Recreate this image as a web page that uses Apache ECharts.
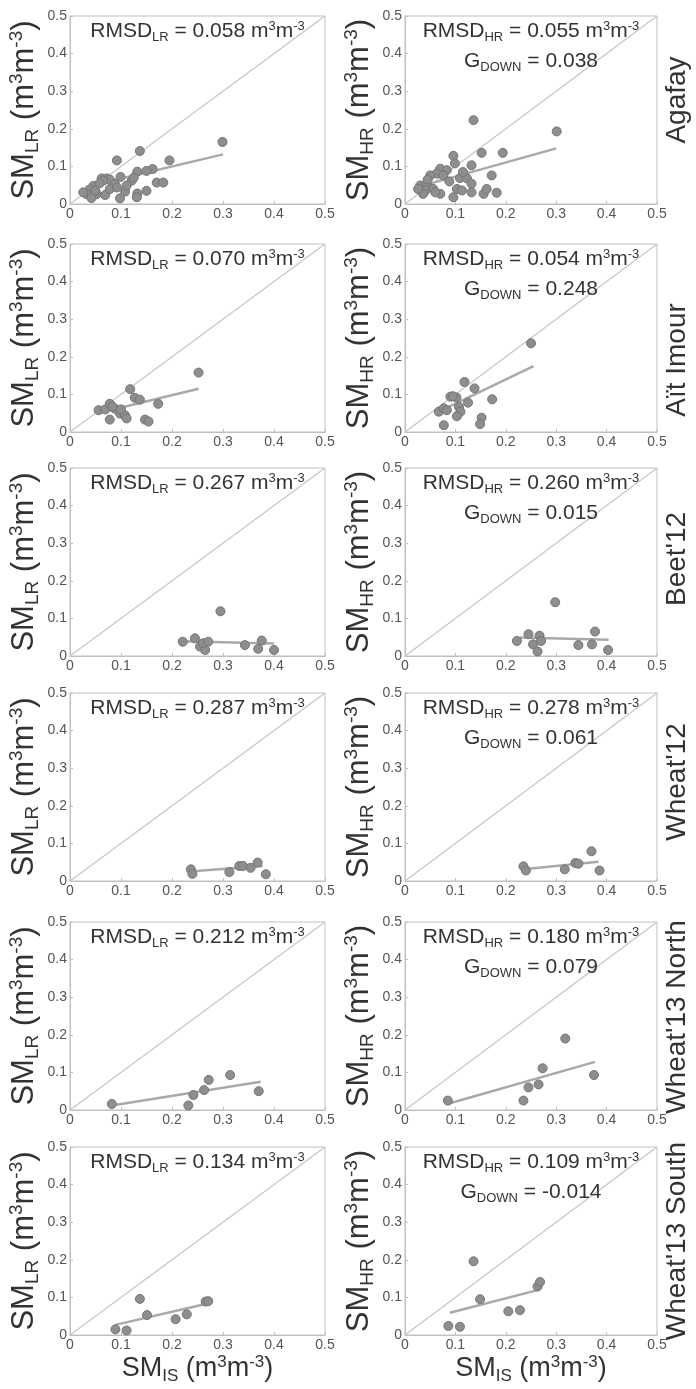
<!DOCTYPE html>
<html>
<head>
<meta charset="utf-8">
<script src="https://cdn.jsdelivr.net/npm/echarts@6/dist/echarts.min.js"></script>
<style>
  html, body { margin: 0; padding: 0; background: #fff; }
  #chart { width: 696px; height: 1389px; }
</style>
</head>
<body>
<div id="chart"></div>
<script>
// sites (rows) and statistics printed in each panel
const sites = ["Agafay", "Aït Imour", "Beet'12", "Wheat'12", "Wheat'13 North", "Wheat'13 South"];
const rmsdLR = ["0.058", "0.070", "0.267", "0.287", "0.212", "0.134"];
const rmsdHR = ["0.055", "0.054", "0.260", "0.278", "0.180", "0.109"];
const gDown = ["0.038", "0.248", "0.015", "0.061", "0.079", "-0.014"];
const axisTicks = [0, 0.1, 0.2, 0.3, 0.4, 0.5];
const identityLine = [[0, 0], [0.5, 0.5]];

// [SM_IS, SM_LR] and [SM_IS, SM_HR] pairs
const agafayLR = [[0.299,0.165],[0.137,0.141],[0.092,0.116],[0.195,0.116],[0.162,0.093],[0.150,0.088],[0.132,0.086],[0.099,0.072],[0.062,0.068],[0.072,0.068],[0.078,0.065],[0.065,0.062],[0.121,0.062],[0.170,0.057],[0.183,0.057],[0.088,0.053],[0.046,0.048],[0.040,0.039],[0.150,0.035],[0.108,0.033],[0.132,0.028],[0.131,0.018],[0.098,0.015],[0.069,0.024],[0.052,0.026],[0.033,0.026],[0.026,0.031],[0.042,0.016],[0.078,0.040],[0.092,0.044],[0.111,0.049],[0.058,0.055],[0.050,0.035],[0.125,0.070]];
const agafayHR = [[0.136,0.223],[0.301,0.193],[0.152,0.136],[0.194,0.136],[0.096,0.128],[0.099,0.108],[0.132,0.103],[0.070,0.094],[0.083,0.090],[0.063,0.081],[0.076,0.076],[0.050,0.076],[0.172,0.076],[0.109,0.069],[0.123,0.068],[0.132,0.054],[0.030,0.049],[0.043,0.054],[0.040,0.036],[0.056,0.040],[0.103,0.040],[0.113,0.036],[0.132,0.031],[0.156,0.027],[0.162,0.040],[0.182,0.030],[0.096,0.018],[0.070,0.027],[0.060,0.031],[0.036,0.027],[0.026,0.040],[0.088,0.060],[0.045,0.065],[0.115,0.085]];
const aitImourLR = [[0.252,0.158],[0.118,0.114],[0.127,0.091],[0.137,0.086],[0.173,0.075],[0.056,0.058],[0.069,0.060],[0.078,0.075],[0.088,0.062],[0.098,0.049],[0.108,0.044],[0.111,0.036],[0.078,0.033],[0.147,0.033],[0.154,0.028],[0.083,0.068],[0.100,0.060]];
const aitImourHR = [[0.250,0.236],[0.118,0.133],[0.138,0.116],[0.173,0.087],[0.090,0.094],[0.102,0.092],[0.125,0.078],[0.067,0.054],[0.077,0.063],[0.083,0.058],[0.107,0.067],[0.110,0.054],[0.103,0.042],[0.152,0.038],[0.149,0.021],[0.077,0.018],[0.095,0.095]];
const beet12LR = [[0.295,0.119],[0.221,0.038],[0.245,0.047],[0.255,0.025],[0.265,0.016],[0.261,0.034],[0.271,0.038],[0.343,0.029],[0.369,0.019],[0.376,0.041],[0.400,0.016]];
const beet12HR = [[0.298,0.143],[0.222,0.040],[0.245,0.058],[0.254,0.031],[0.263,0.012],[0.267,0.054],[0.270,0.040],[0.344,0.029],[0.371,0.031],[0.377,0.065],[0.403,0.016]];
const wheat12LR = [[0.237,0.031],[0.240,0.019],[0.3125,0.024],[0.332,0.040],[0.339,0.040],[0.354,0.035],[0.368,0.049],[0.384,0.018]];
const wheat12HR = [[0.235,0.039],[0.240,0.028],[0.317,0.031],[0.338,0.048],[0.344,0.046],[0.370,0.079],[0.386,0.028]];
const wheat13NorthLR = [[0.082,0.016],[0.232,0.012],[0.242,0.040],[0.263,0.053],[0.272,0.080],[0.314,0.093],[0.370,0.050]];
const wheat13NorthHR = [[0.085,0.025],[0.235,0.025],[0.245,0.060],[0.265,0.068],[0.273,0.111],[0.318,0.190],[0.375,0.093]];
const wheat13SouthLR = [[0.089,0.015],[0.111,0.012],[0.137,0.096],[0.151,0.053],[0.207,0.042],[0.229,0.055],[0.266,0.089],[0.271,0.090]];
const wheat13SouthHR = [[0.086,0.024],[0.109,0.022],[0.136,0.196],[0.149,0.095],[0.205,0.063],[0.228,0.066],[0.263,0.129],[0.268,0.141]];

// end points of the fitted regression lines
const agafayLRFit = [[0.03,0.045],[0.30,0.132]];
const agafayHRFit = [[0.025,0.045],[0.30,0.148]];
const aitImourLRFit = [[0.06,0.052],[0.252,0.115]];
const aitImourHRFit = [[0.067,0.054],[0.255,0.175]];
const beet12LRFit = [[0.22,0.039],[0.40,0.033]];
const beet12HRFit = [[0.228,0.049],[0.404,0.043]];
const wheat12LRFit = [[0.24,0.026],[0.378,0.040]];
const wheat12HRFit = [[0.235,0.031],[0.384,0.051]];
const wheat13NorthLRFit = [[0.082,0.012],[0.374,0.075]];
const wheat13NorthHRFit = [[0.089,0.018],[0.377,0.128]];
const wheat13SouthLRFit = [[0.089,0.027],[0.270,0.084]];
const wheat13SouthHRFit = [[0.089,0.059],[0.265,0.120]];

const lrPoints = [agafayLR, aitImourLR, beet12LR, wheat12LR, wheat13NorthLR, wheat13SouthLR];
const hrPoints = [agafayHR, aitImourHR, beet12HR, wheat12HR, wheat13NorthHR, wheat13SouthHR];
const lrFits = [agafayLRFit, aitImourLRFit, beet12LRFit, wheat12LRFit, wheat13NorthLRFit, wheat13SouthLRFit];
const hrFits = [agafayHRFit, aitImourHRFit, beet12HRFit, wheat12HRFit, wheat13NorthHRFit, wheat13SouthHRFit];

// layout
const font = "Liberation Sans, Arial, sans-serif";
const textColor = "#333";
const boxColor = "#c0c0c0";
const colLeft = [70, 405];
const colWidth = [255, 252];
const rowTop = [16, 244, 468, 693, 922, 1147];
const plotHeight = 188;
const siteLabelY = [100, 360, 559, 782, 1017, 1241];

function richFor(size, forGraphic) {
  const small = Math.round(size * 0.62);
  const colorKey = forGraphic ? "fill" : "color";
  return {
    sub: { fontSize: small, fontFamily: font, [colorKey]: textColor, padding: [Math.round(size * 0.55), 0, 0, 0] },
    sup: { fontSize: small, fontFamily: font, [colorKey]: textColor, padding: [0, 0, Math.round(size * 0.48), 0] }
  };
}

const grids = [], xAxes = [], yAxes = [], series = [], graphics = [];

sites.forEach((site, row) => {
  [0, 1].forEach((col) => {
    const idx = grids.length;
    const isHR = col === 1;
    const bottomRow = row === sites.length - 1;
    grids.push({
      left: colLeft[col], top: rowTop[row], width: colWidth[col], height: plotHeight,
      show: true, borderColor: boxColor, borderWidth: 1
    });
    const common = {
      gridIndex: idx, type: "value",
      min: axisTicks[0], max: axisTicks[axisTicks.length - 1], interval: axisTicks[1] - axisTicks[0],
      axisLine: { show: true, onZero: false, lineStyle: { color: boxColor, width: 1 } },
      axisTick: { show: true, inside: true, length: 3, lineStyle: { color: boxColor } },
      splitLine: { show: false },
      axisLabel: {
        fontSize: 14, color: "#555", fontFamily: font, margin: 3,
        formatter: (v) => String(Math.round(v * 10) / 10)
      }
    };
    xAxes.push(Object.assign({}, common, bottomRow ? {
      name: "SM{sub|IS} (m{sup|3}m{sup|-3})",
      nameLocation: "middle", nameGap: 18,
      nameTextStyle: { fontSize: 27, fontFamily: font, color: textColor, rich: richFor(27, false) }
    } : {}));
    yAxes.push(Object.assign({}, common, {
      name: isHR ? "SM{sub|HR} (m{sup|3}m{sup|-3})" : "SM{sub|LR} (m{sup|3}m{sup|-3})",
      nameLocation: "middle", nameRotate: 90, nameGap: 28,
      nameTextStyle: { fontSize: 31, fontFamily: font, color: textColor, rich: richFor(31, false) }
    }));

    series.push({
      type: "line", xAxisIndex: idx, yAxisIndex: idx, data: identityLine,
      symbol: "none", silent: true, z: 1,
      lineStyle: { color: "#c6c6c6", width: 1.2 }
    });
    series.push({
      type: "scatter", xAxisIndex: idx, yAxisIndex: idx,
      data: isHR ? hrPoints[row] : lrPoints[row],
      symbolSize: 9, z: 3,
      itemStyle: { color: "#8e8e8e", borderColor: "#757575", borderWidth: 1, opacity: 1 }
    });
    series.push({
      type: "line", xAxisIndex: idx, yAxisIndex: idx,
      data: isHR ? hrFits[row] : lrFits[row],
      symbol: "none", silent: true, z: 2,
      lineStyle: { color: "#a9a9a9", width: 2.5 }
    });

    const cx = colLeft[col] + colWidth[col] / 2;
    graphics.push({
      type: "text", x: cx, y: rowTop[row] + 15, z: 10,
      style: {
        text: (isHR ? "RMSD{sub|HR} = " + rmsdHR[row] : "RMSD{sub|LR} = " + rmsdLR[row]) + " m{sup|3}m{sup|-3}",
        fontSize: 21, fontFamily: font, fill: textColor,
        align: "center", verticalAlign: "middle", textAlign: "center", textVerticalAlign: "middle",
        rich: richFor(21, true)
      }
    });
    if (isHR) {
      graphics.push({
        type: "text", x: cx, y: rowTop[row] + 45, z: 10,
        style: {
          text: "G{sub|DOWN} = " + gDown[row],
          fontSize: 21, fontFamily: font, fill: textColor,
          align: "center", verticalAlign: "middle", textAlign: "center", textVerticalAlign: "middle",
          rich: richFor(21, true)
        }
      });
    }
  });
  graphics.push({
    type: "text", x: 677, y: siteLabelY[row], rotation: Math.PI / 2, z: 10,
    style: {
      text: site, fontSize: 28, fontFamily: font, fill: textColor,
      align: "center", verticalAlign: "middle", textAlign: "center", textVerticalAlign: "middle"
    }
  });
});

const chart = echarts.init(document.getElementById("chart"), null, { renderer: "canvas" });
chart.setOption({
  animation: false,
  backgroundColor: "#ffffff",
  grid: grids,
  xAxis: xAxes,
  yAxis: yAxes,
  series: series,
  graphic: graphics
});
</script>
</body>
</html>
